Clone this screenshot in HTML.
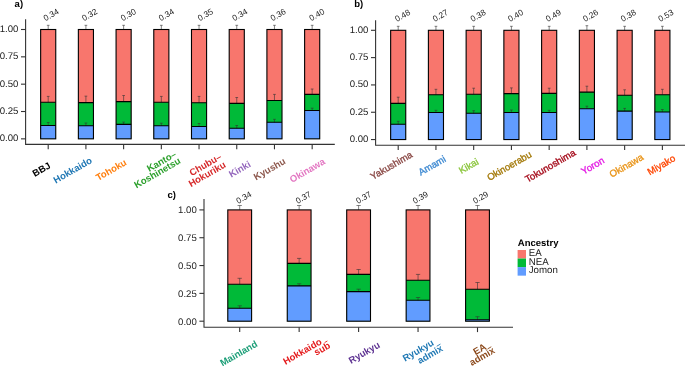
<!DOCTYPE html>
<html><head><meta charset="utf-8"><style>
html,body{margin:0;padding:0;background:#fff;overflow:hidden}
svg{display:block;will-change:transform}
text{font-family:"Liberation Sans",sans-serif;text-rendering:geometricPrecision}
.tk{font-size:9.6px;fill:#222}
.vl{font-size:8.3px;fill:#222}
.xb{font-size:9.5px;font-weight:bold}
.xr{font-size:9.6px;stroke-width:0.35px}
.tag{font-size:9.5px;font-weight:bold;fill:#000}
.lt{font-size:9.5px;font-weight:bold;fill:#000}
.li{font-size:9.7px;fill:#1a1a1a}
</style></head><body>
<svg width="685" height="366" viewBox="0 0 685 366">
<rect width="685" height="366" fill="#fff"/>
<rect x="40.65" y="29.50" width="15.10" height="109.35" fill="#F8766D"/>
<rect x="40.65" y="102.30" width="15.10" height="36.55" fill="#00BA38"/>
<rect x="40.65" y="125.50" width="15.10" height="13.35" fill="#619CFF"/>
<rect x="78.36" y="29.50" width="15.10" height="109.35" fill="#F8766D"/>
<rect x="78.36" y="102.60" width="15.10" height="36.25" fill="#00BA38"/>
<rect x="78.36" y="125.80" width="15.10" height="13.05" fill="#619CFF"/>
<rect x="116.07" y="29.50" width="15.10" height="109.35" fill="#F8766D"/>
<rect x="116.07" y="101.60" width="15.10" height="37.25" fill="#00BA38"/>
<rect x="116.07" y="124.40" width="15.10" height="14.45" fill="#619CFF"/>
<rect x="153.78" y="29.50" width="15.10" height="109.35" fill="#F8766D"/>
<rect x="153.78" y="102.30" width="15.10" height="36.55" fill="#00BA38"/>
<rect x="153.78" y="125.80" width="15.10" height="13.05" fill="#619CFF"/>
<rect x="191.49" y="29.50" width="15.10" height="109.35" fill="#F8766D"/>
<rect x="191.49" y="102.70" width="15.10" height="36.15" fill="#00BA38"/>
<rect x="191.49" y="126.50" width="15.10" height="12.35" fill="#619CFF"/>
<rect x="229.20" y="29.50" width="15.10" height="109.35" fill="#F8766D"/>
<rect x="229.20" y="103.40" width="15.10" height="35.45" fill="#00BA38"/>
<rect x="229.20" y="128.30" width="15.10" height="10.55" fill="#619CFF"/>
<rect x="266.91" y="29.50" width="15.10" height="109.35" fill="#F8766D"/>
<rect x="266.91" y="100.50" width="15.10" height="38.35" fill="#00BA38"/>
<rect x="266.91" y="122.30" width="15.10" height="16.55" fill="#619CFF"/>
<rect x="304.62" y="29.50" width="15.10" height="109.35" fill="#F8766D"/>
<rect x="304.62" y="94.40" width="15.10" height="44.45" fill="#00BA38"/>
<rect x="304.62" y="110.50" width="15.10" height="28.35" fill="#619CFF"/>
<path d="M46.84 25.30H49.56M48.20 25.30V29.50" stroke="#333" stroke-width="0.6" fill="none"/>
<path d="M46.84 96.40H49.56M48.20 96.40V102.30" stroke="#333" stroke-width="0.6" fill="none"/>
<path d="M46.84 122.50H49.56M48.20 122.50V125.50" stroke="#333" stroke-width="0.6" fill="none"/>
<path d="M84.55 25.30H87.27M85.91 25.30V29.50" stroke="#333" stroke-width="0.6" fill="none"/>
<path d="M84.55 96.15H87.27M85.91 96.15V102.60" stroke="#333" stroke-width="0.6" fill="none"/>
<path d="M84.55 123.00H87.27M85.91 123.00V125.80" stroke="#333" stroke-width="0.6" fill="none"/>
<path d="M122.26 25.30H124.98M123.62 25.30V29.50" stroke="#333" stroke-width="0.6" fill="none"/>
<path d="M122.26 95.50H124.98M123.62 95.50V101.60" stroke="#333" stroke-width="0.6" fill="none"/>
<path d="M122.26 122.10H124.98M123.62 122.10V124.40" stroke="#333" stroke-width="0.6" fill="none"/>
<path d="M159.97 25.30H162.69M161.33 25.30V29.50" stroke="#333" stroke-width="0.6" fill="none"/>
<path d="M159.97 96.40H162.69M161.33 96.40V102.30" stroke="#333" stroke-width="0.6" fill="none"/>
<path d="M159.97 123.20H162.69M161.33 123.20V125.80" stroke="#333" stroke-width="0.6" fill="none"/>
<path d="M197.68 25.30H200.40M199.04 25.30V29.50" stroke="#333" stroke-width="0.6" fill="none"/>
<path d="M197.68 96.40H200.40M199.04 96.40V102.70" stroke="#333" stroke-width="0.6" fill="none"/>
<path d="M197.68 123.50H200.40M199.04 123.50V126.50" stroke="#333" stroke-width="0.6" fill="none"/>
<path d="M235.39 25.30H238.11M236.75 25.30V29.50" stroke="#333" stroke-width="0.6" fill="none"/>
<path d="M235.39 97.50H238.11M236.75 97.50V103.40" stroke="#333" stroke-width="0.6" fill="none"/>
<path d="M235.39 125.50H238.11M236.75 125.50V128.30" stroke="#333" stroke-width="0.6" fill="none"/>
<path d="M273.10 25.30H275.82M274.46 25.30V29.50" stroke="#333" stroke-width="0.6" fill="none"/>
<path d="M273.10 94.40H275.82M274.46 94.40V100.50" stroke="#333" stroke-width="0.6" fill="none"/>
<path d="M273.10 119.30H275.82M274.46 119.30V122.30" stroke="#333" stroke-width="0.6" fill="none"/>
<path d="M310.81 25.30H313.53M312.17 25.30V29.50" stroke="#333" stroke-width="0.6" fill="none"/>
<path d="M310.81 89.00H313.53M312.17 89.00V94.40" stroke="#333" stroke-width="0.6" fill="none"/>
<path d="M310.81 108.20H313.53M312.17 108.20V110.50" stroke="#333" stroke-width="0.6" fill="none"/>
<rect x="40.65" y="29.50" width="15.10" height="109.35" fill="none" stroke="#000" stroke-width="1.1"/>
<path d="M40.65 102.30H55.75M40.65 125.50H55.75" stroke="#000" stroke-width="1.1"/>
<rect x="78.36" y="29.50" width="15.10" height="109.35" fill="none" stroke="#000" stroke-width="1.1"/>
<path d="M78.36 102.60H93.46M78.36 125.80H93.46" stroke="#000" stroke-width="1.1"/>
<rect x="116.07" y="29.50" width="15.10" height="109.35" fill="none" stroke="#000" stroke-width="1.1"/>
<path d="M116.07 101.60H131.17M116.07 124.40H131.17" stroke="#000" stroke-width="1.1"/>
<rect x="153.78" y="29.50" width="15.10" height="109.35" fill="none" stroke="#000" stroke-width="1.1"/>
<path d="M153.78 102.30H168.88M153.78 125.80H168.88" stroke="#000" stroke-width="1.1"/>
<rect x="191.49" y="29.50" width="15.10" height="109.35" fill="none" stroke="#000" stroke-width="1.1"/>
<path d="M191.49 102.70H206.59M191.49 126.50H206.59" stroke="#000" stroke-width="1.1"/>
<rect x="229.20" y="29.50" width="15.10" height="109.35" fill="none" stroke="#000" stroke-width="1.1"/>
<path d="M229.20 103.40H244.30M229.20 128.30H244.30" stroke="#000" stroke-width="1.1"/>
<rect x="266.91" y="29.50" width="15.10" height="109.35" fill="none" stroke="#000" stroke-width="1.1"/>
<path d="M266.91 100.50H282.01M266.91 122.30H282.01" stroke="#000" stroke-width="1.1"/>
<rect x="304.62" y="29.50" width="15.10" height="109.35" fill="none" stroke="#000" stroke-width="1.1"/>
<path d="M304.62 94.40H319.72M304.62 110.50H319.72" stroke="#000" stroke-width="1.1"/>
<path d="M25.60 19.30V144.40H334.80" stroke="#333333" stroke-width="1.1" fill="none"/>
<path d="M21.00 138.85H25.60" stroke="#333333" stroke-width="1.1"/>
<text x="18.40" y="141.25" text-anchor="end" class="tk">0.00</text>
<path d="M21.00 111.51H25.60" stroke="#333333" stroke-width="1.1"/>
<text x="18.40" y="113.91" text-anchor="end" class="tk">0.25</text>
<path d="M21.00 84.17H25.60" stroke="#333333" stroke-width="1.1"/>
<text x="18.40" y="86.58" text-anchor="end" class="tk">0.50</text>
<path d="M21.00 56.84H25.60" stroke="#333333" stroke-width="1.1"/>
<text x="18.40" y="59.24" text-anchor="end" class="tk">0.75</text>
<path d="M21.00 29.50H25.60" stroke="#333333" stroke-width="1.1"/>
<text x="18.40" y="31.90" text-anchor="end" class="tk">1.00</text>
<path d="M48.20 144.40V149.30" stroke="#333333" stroke-width="1.1"/>
<path d="M85.91 144.40V149.30" stroke="#333333" stroke-width="1.1"/>
<path d="M123.62 144.40V149.30" stroke="#333333" stroke-width="1.1"/>
<path d="M161.33 144.40V149.30" stroke="#333333" stroke-width="1.1"/>
<path d="M199.04 144.40V149.30" stroke="#333333" stroke-width="1.1"/>
<path d="M236.75 144.40V149.30" stroke="#333333" stroke-width="1.1"/>
<path d="M274.46 144.40V149.30" stroke="#333333" stroke-width="1.1"/>
<path d="M312.17 144.40V149.30" stroke="#333333" stroke-width="1.1"/>
<rect x="390.65" y="30.30" width="15.10" height="109.26" fill="#F8766D"/>
<rect x="390.65" y="103.40" width="15.10" height="36.16" fill="#00BA38"/>
<rect x="390.65" y="124.30" width="15.10" height="15.26" fill="#619CFF"/>
<rect x="428.39" y="30.30" width="15.10" height="109.26" fill="#F8766D"/>
<rect x="428.39" y="94.75" width="15.10" height="44.81" fill="#00BA38"/>
<rect x="428.39" y="112.50" width="15.10" height="27.06" fill="#619CFF"/>
<rect x="466.13" y="30.30" width="15.10" height="109.26" fill="#F8766D"/>
<rect x="466.13" y="94.30" width="15.10" height="45.26" fill="#00BA38"/>
<rect x="466.13" y="113.30" width="15.10" height="26.26" fill="#619CFF"/>
<rect x="503.87" y="30.30" width="15.10" height="109.26" fill="#F8766D"/>
<rect x="503.87" y="93.60" width="15.10" height="45.96" fill="#00BA38"/>
<rect x="503.87" y="112.50" width="15.10" height="27.06" fill="#619CFF"/>
<rect x="541.61" y="30.30" width="15.10" height="109.26" fill="#F8766D"/>
<rect x="541.61" y="93.40" width="15.10" height="46.16" fill="#00BA38"/>
<rect x="541.61" y="112.50" width="15.10" height="27.06" fill="#619CFF"/>
<rect x="579.35" y="30.30" width="15.10" height="109.26" fill="#F8766D"/>
<rect x="579.35" y="92.10" width="15.10" height="47.46" fill="#00BA38"/>
<rect x="579.35" y="108.70" width="15.10" height="30.86" fill="#619CFF"/>
<rect x="617.09" y="30.30" width="15.10" height="109.26" fill="#F8766D"/>
<rect x="617.09" y="95.20" width="15.10" height="44.36" fill="#00BA38"/>
<rect x="617.09" y="111.10" width="15.10" height="28.46" fill="#619CFF"/>
<rect x="654.83" y="30.30" width="15.10" height="109.26" fill="#F8766D"/>
<rect x="654.83" y="94.75" width="15.10" height="44.81" fill="#00BA38"/>
<rect x="654.83" y="112.00" width="15.10" height="27.56" fill="#619CFF"/>
<path d="M396.84 26.30H399.56M398.20 26.30V30.30" stroke="#333" stroke-width="0.6" fill="none"/>
<path d="M396.84 97.20H399.56M398.20 97.20V103.40" stroke="#333" stroke-width="0.6" fill="none"/>
<path d="M396.84 121.30H399.56M398.20 121.30V124.30" stroke="#333" stroke-width="0.6" fill="none"/>
<path d="M434.58 26.30H437.30M435.94 26.30V30.30" stroke="#333" stroke-width="0.6" fill="none"/>
<path d="M434.58 89.30H437.30M435.94 89.30V94.75" stroke="#333" stroke-width="0.6" fill="none"/>
<path d="M434.58 110.30H437.30M435.94 110.30V112.50" stroke="#333" stroke-width="0.6" fill="none"/>
<path d="M472.32 26.30H475.04M473.68 26.30V30.30" stroke="#333" stroke-width="0.6" fill="none"/>
<path d="M472.32 88.20H475.04M473.68 88.20V94.30" stroke="#333" stroke-width="0.6" fill="none"/>
<path d="M472.32 110.70H475.04M473.68 110.70V113.30" stroke="#333" stroke-width="0.6" fill="none"/>
<path d="M510.06 26.30H512.78M511.42 26.30V30.30" stroke="#333" stroke-width="0.6" fill="none"/>
<path d="M510.06 87.90H512.78M511.42 87.90V93.60" stroke="#333" stroke-width="0.6" fill="none"/>
<path d="M510.06 110.00H512.78M511.42 110.00V112.50" stroke="#333" stroke-width="0.6" fill="none"/>
<path d="M547.80 26.30H550.52M549.16 26.30V30.30" stroke="#333" stroke-width="0.6" fill="none"/>
<path d="M547.80 88.20H550.52M549.16 88.20V93.40" stroke="#333" stroke-width="0.6" fill="none"/>
<path d="M547.80 110.30H550.52M549.16 110.30V112.50" stroke="#333" stroke-width="0.6" fill="none"/>
<path d="M585.54 25.70H588.26M586.90 25.70V30.30" stroke="#333" stroke-width="0.6" fill="none"/>
<path d="M585.54 86.20H588.26M586.90 86.20V92.10" stroke="#333" stroke-width="0.6" fill="none"/>
<path d="M585.54 106.20H588.26M586.90 106.20V108.70" stroke="#333" stroke-width="0.6" fill="none"/>
<path d="M623.28 26.30H626.00M624.64 26.30V30.30" stroke="#333" stroke-width="0.6" fill="none"/>
<path d="M623.28 89.80H626.00M624.64 89.80V95.20" stroke="#333" stroke-width="0.6" fill="none"/>
<path d="M623.28 108.40H626.00M624.64 108.40V111.10" stroke="#333" stroke-width="0.6" fill="none"/>
<path d="M661.02 26.30H663.74M662.38 26.30V30.30" stroke="#333" stroke-width="0.6" fill="none"/>
<path d="M661.02 89.30H663.74M662.38 89.30V94.75" stroke="#333" stroke-width="0.6" fill="none"/>
<path d="M661.02 109.50H663.74M662.38 109.50V112.00" stroke="#333" stroke-width="0.6" fill="none"/>
<rect x="390.65" y="30.30" width="15.10" height="109.26" fill="none" stroke="#000" stroke-width="1.1"/>
<path d="M390.65 103.40H405.75M390.65 124.30H405.75" stroke="#000" stroke-width="1.1"/>
<rect x="428.39" y="30.30" width="15.10" height="109.26" fill="none" stroke="#000" stroke-width="1.1"/>
<path d="M428.39 94.75H443.49M428.39 112.50H443.49" stroke="#000" stroke-width="1.1"/>
<rect x="466.13" y="30.30" width="15.10" height="109.26" fill="none" stroke="#000" stroke-width="1.1"/>
<path d="M466.13 94.30H481.23M466.13 113.30H481.23" stroke="#000" stroke-width="1.1"/>
<rect x="503.87" y="30.30" width="15.10" height="109.26" fill="none" stroke="#000" stroke-width="1.1"/>
<path d="M503.87 93.60H518.97M503.87 112.50H518.97" stroke="#000" stroke-width="1.1"/>
<rect x="541.61" y="30.30" width="15.10" height="109.26" fill="none" stroke="#000" stroke-width="1.1"/>
<path d="M541.61 93.40H556.71M541.61 112.50H556.71" stroke="#000" stroke-width="1.1"/>
<rect x="579.35" y="30.30" width="15.10" height="109.26" fill="none" stroke="#000" stroke-width="1.1"/>
<path d="M579.35 92.10H594.45M579.35 108.70H594.45" stroke="#000" stroke-width="1.1"/>
<rect x="617.09" y="30.30" width="15.10" height="109.26" fill="none" stroke="#000" stroke-width="1.1"/>
<path d="M617.09 95.20H632.19M617.09 111.10H632.19" stroke="#000" stroke-width="1.1"/>
<rect x="654.83" y="30.30" width="15.10" height="109.26" fill="none" stroke="#000" stroke-width="1.1"/>
<path d="M654.83 94.75H669.93M654.83 112.00H669.93" stroke="#000" stroke-width="1.1"/>
<path d="M375.60 20.20V145.20H686.00" stroke="#333333" stroke-width="1.1" fill="none"/>
<path d="M371.00 139.56H375.60" stroke="#333333" stroke-width="1.1"/>
<text x="368.40" y="141.96" text-anchor="end" class="tk">0.00</text>
<path d="M371.00 112.25H375.60" stroke="#333333" stroke-width="1.1"/>
<text x="368.40" y="114.65" text-anchor="end" class="tk">0.25</text>
<path d="M371.00 84.93H375.60" stroke="#333333" stroke-width="1.1"/>
<text x="368.40" y="87.33" text-anchor="end" class="tk">0.50</text>
<path d="M371.00 57.61H375.60" stroke="#333333" stroke-width="1.1"/>
<text x="368.40" y="60.01" text-anchor="end" class="tk">0.75</text>
<path d="M371.00 30.30H375.60" stroke="#333333" stroke-width="1.1"/>
<text x="368.40" y="32.70" text-anchor="end" class="tk">1.00</text>
<path d="M398.20 145.20V150.10" stroke="#333333" stroke-width="1.1"/>
<path d="M435.94 145.20V150.10" stroke="#333333" stroke-width="1.1"/>
<path d="M473.68 145.20V150.10" stroke="#333333" stroke-width="1.1"/>
<path d="M511.42 145.20V150.10" stroke="#333333" stroke-width="1.1"/>
<path d="M549.16 145.20V150.10" stroke="#333333" stroke-width="1.1"/>
<path d="M586.90 145.20V150.10" stroke="#333333" stroke-width="1.1"/>
<path d="M624.64 145.20V150.10" stroke="#333333" stroke-width="1.1"/>
<path d="M662.38 145.20V150.10" stroke="#333333" stroke-width="1.1"/>
<rect x="227.80" y="209.90" width="23.80" height="111.30" fill="#F8766D"/>
<rect x="227.80" y="284.30" width="23.80" height="36.90" fill="#00BA38"/>
<rect x="227.80" y="308.30" width="23.80" height="12.90" fill="#619CFF"/>
<rect x="287.25" y="209.90" width="23.80" height="111.30" fill="#F8766D"/>
<rect x="287.25" y="263.40" width="23.80" height="57.80" fill="#00BA38"/>
<rect x="287.25" y="285.90" width="23.80" height="35.30" fill="#619CFF"/>
<rect x="346.70" y="209.90" width="23.80" height="111.30" fill="#F8766D"/>
<rect x="346.70" y="274.40" width="23.80" height="46.80" fill="#00BA38"/>
<rect x="346.70" y="291.60" width="23.80" height="29.60" fill="#619CFF"/>
<rect x="406.15" y="209.90" width="23.80" height="111.30" fill="#F8766D"/>
<rect x="406.15" y="280.20" width="23.80" height="41.00" fill="#00BA38"/>
<rect x="406.15" y="300.30" width="23.80" height="20.90" fill="#619CFF"/>
<rect x="465.60" y="209.90" width="23.80" height="111.30" fill="#F8766D"/>
<rect x="465.60" y="289.20" width="23.80" height="32.00" fill="#00BA38"/>
<rect x="465.60" y="319.70" width="23.80" height="1.50" fill="#619CFF"/>
<path d="M237.56 205.50H241.84M239.70 205.50V209.90" stroke="#333" stroke-width="0.6" fill="none"/>
<path d="M237.56 278.30H241.84M239.70 278.30V284.30" stroke="#333" stroke-width="0.6" fill="none"/>
<path d="M237.56 305.80H241.84M239.70 305.80V308.30" stroke="#333" stroke-width="0.6" fill="none"/>
<path d="M297.01 205.50H301.29M299.15 205.50V209.90" stroke="#333" stroke-width="0.6" fill="none"/>
<path d="M297.01 258.40H301.29M299.15 258.40V263.40" stroke="#333" stroke-width="0.6" fill="none"/>
<path d="M297.01 283.80H301.29M299.15 283.80V285.90" stroke="#333" stroke-width="0.6" fill="none"/>
<path d="M356.46 205.50H360.74M358.60 205.50V209.90" stroke="#333" stroke-width="0.6" fill="none"/>
<path d="M356.46 269.50H360.74M358.60 269.50V274.40" stroke="#333" stroke-width="0.6" fill="none"/>
<path d="M356.46 289.20H360.74M358.60 289.20V291.60" stroke="#333" stroke-width="0.6" fill="none"/>
<path d="M415.91 205.50H420.19M418.05 205.50V209.90" stroke="#333" stroke-width="0.6" fill="none"/>
<path d="M415.91 274.40H420.19M418.05 274.40V280.20" stroke="#333" stroke-width="0.6" fill="none"/>
<path d="M415.91 297.50H420.19M418.05 297.50V300.30" stroke="#333" stroke-width="0.6" fill="none"/>
<path d="M475.36 205.50H479.64M477.50 205.50V209.90" stroke="#333" stroke-width="0.6" fill="none"/>
<path d="M475.36 282.50H479.64M477.50 282.50V289.20" stroke="#333" stroke-width="0.6" fill="none"/>
<path d="M475.36 316.70H479.64M477.50 316.70V319.70" stroke="#333" stroke-width="0.6" fill="none"/>
<rect x="227.80" y="209.90" width="23.80" height="111.30" fill="none" stroke="#000" stroke-width="1.1"/>
<path d="M227.80 284.30H251.60M227.80 308.30H251.60" stroke="#000" stroke-width="1.1"/>
<rect x="287.25" y="209.90" width="23.80" height="111.30" fill="none" stroke="#000" stroke-width="1.1"/>
<path d="M287.25 263.40H311.05M287.25 285.90H311.05" stroke="#000" stroke-width="1.1"/>
<rect x="346.70" y="209.90" width="23.80" height="111.30" fill="none" stroke="#000" stroke-width="1.1"/>
<path d="M346.70 274.40H370.50M346.70 291.60H370.50" stroke="#000" stroke-width="1.1"/>
<rect x="406.15" y="209.90" width="23.80" height="111.30" fill="none" stroke="#000" stroke-width="1.1"/>
<path d="M406.15 280.20H429.95M406.15 300.30H429.95" stroke="#000" stroke-width="1.1"/>
<rect x="465.60" y="209.90" width="23.80" height="111.30" fill="none" stroke="#000" stroke-width="1.1"/>
<path d="M465.60 289.20H489.40M465.60 319.70H489.40" stroke="#000" stroke-width="1.1"/>
<path d="M204.00 199.00V327.20H513.00" stroke="#333333" stroke-width="1.1" fill="none"/>
<path d="M199.40 321.20H204.00" stroke="#333333" stroke-width="1.1"/>
<text x="196.80" y="324.50" text-anchor="end" class="tk">0.00</text>
<path d="M199.40 293.38H204.00" stroke="#333333" stroke-width="1.1"/>
<text x="196.80" y="296.68" text-anchor="end" class="tk">0.25</text>
<path d="M199.40 265.55H204.00" stroke="#333333" stroke-width="1.1"/>
<text x="196.80" y="268.85" text-anchor="end" class="tk">0.50</text>
<path d="M199.40 237.72H204.00" stroke="#333333" stroke-width="1.1"/>
<text x="196.80" y="241.03" text-anchor="end" class="tk">0.75</text>
<path d="M199.40 209.90H204.00" stroke="#333333" stroke-width="1.1"/>
<text x="196.80" y="213.20" text-anchor="end" class="tk">1.00</text>
<path d="M239.70 327.20V332.10" stroke="#333333" stroke-width="1.1"/>
<path d="M299.15 327.20V332.10" stroke="#333333" stroke-width="1.1"/>
<path d="M358.60 327.20V332.10" stroke="#333333" stroke-width="1.1"/>
<path d="M418.05 327.20V332.10" stroke="#333333" stroke-width="1.1"/>
<path d="M477.50 327.20V332.10" stroke="#333333" stroke-width="1.1"/>
<text transform="translate(45.40 21.20) rotate(-30)" class="vl">0.34</text>
<text transform="translate(84.11 21.20) rotate(-30)" class="vl">0.32</text>
<text transform="translate(122.72 21.20) rotate(-30)" class="vl">0.30</text>
<text transform="translate(160.73 21.20) rotate(-30)" class="vl">0.34</text>
<text transform="translate(199.84 21.20) rotate(-30)" class="vl">0.35</text>
<text transform="translate(234.15 21.20) rotate(-30)" class="vl">0.34</text>
<text transform="translate(272.46 21.20) rotate(-30)" class="vl">0.36</text>
<text transform="translate(311.37 21.20) rotate(-30)" class="vl">0.40</text>
<text transform="translate(397.10 22.10) rotate(-30)" class="vl">0.48</text>
<text transform="translate(434.69 22.10) rotate(-30)" class="vl">0.27</text>
<text transform="translate(472.43 22.10) rotate(-30)" class="vl">0.38</text>
<text transform="translate(509.92 22.10) rotate(-30)" class="vl">0.40</text>
<text transform="translate(547.66 22.10) rotate(-30)" class="vl">0.49</text>
<text transform="translate(585.10 22.10) rotate(-30)" class="vl">0.26</text>
<text transform="translate(622.84 22.10) rotate(-30)" class="vl">0.38</text>
<text transform="translate(660.28 22.10) rotate(-30)" class="vl">0.53</text>
<text transform="translate(238.25 203.90) rotate(-30)" class="vl">0.34</text>
<text transform="translate(297.70 203.90) rotate(-30)" class="vl">0.37</text>
<text transform="translate(357.90 203.90) rotate(-30)" class="vl">0.37</text>
<text transform="translate(414.85 203.90) rotate(-30)" class="vl">0.39</text>
<text transform="translate(474.90 203.90) rotate(-30)" class="vl">0.29</text>
<text transform="translate(34.80 177.00) rotate(-30)" class="xb" fill="#000000">BBJ</text>
<text transform="translate(55.80 183.70) rotate(-30)" class="xb" fill="#1F77B4">Hokkaido</text>
<text transform="translate(98.20 181.10) rotate(-30)" class="xb" fill="#FF7F0E">Tohoku</text>
<text transform="translate(149.20 172.10) rotate(-30)" class="xb" fill="#2CA02C">Kanto–</text>
<text transform="translate(136.60 188.50) rotate(-30)" class="xb" fill="#2CA02C">Koshinetsu</text>
<text transform="translate(191.70 176.20) rotate(-30)" class="xb" fill="#D62728">Chubu–</text>
<text transform="translate(190.90 187.20) rotate(-30)" class="xb" fill="#D62728">Hokuriku</text>
<text transform="translate(231.30 177.70) rotate(-30)" class="xb" fill="#9467BD">Kinki</text>
<text transform="translate(256.10 180.50) rotate(-30)" class="xb" fill="#8C564B">Kyushu</text>
<text transform="translate(292.00 183.00) rotate(-30)" class="xb" fill="#E377C2">Okinawa</text>
<text transform="translate(372.70 180.00) rotate(-30)" class="xr" fill="#8B4A47" stroke="#8B4A47">Yakushima</text>
<text transform="translate(420.70 175.80) rotate(-30)" class="xr" fill="#408BD2" stroke="#408BD2">Amami</text>
<text transform="translate(461.25 174.00) rotate(-30)" class="xr" fill="#8DC63F" stroke="#8DC63F">Kikai</text>
<text transform="translate(489.40 181.10) rotate(-30)" class="xr" fill="#A47A0A" stroke="#A47A0A">Okinoerabu</text>
<text transform="translate(527.40 182.80) rotate(-30)" class="xr" fill="#A50A1A" stroke="#A50A1A">Tokunoshima</text>
<text transform="translate(583.60 174.70) rotate(-30)" class="xr" fill="#E31AE3" stroke="#E31AE3">Yoron</text>
<text transform="translate(611.80 177.80) rotate(-30)" class="xr" fill="#E99418" stroke="#E99418">Okinawa</text>
<text transform="translate(649.80 175.40) rotate(-30)" class="xr" fill="#FF4500" stroke="#FF4500">Miyako</text>
<text transform="translate(222.50 366.50) rotate(-30)" class="xb" fill="#1B9E77">Mainland</text>
<text transform="translate(285.40 364.90) rotate(-30)" class="xb" fill="#E41A1C">Hokkaido</text>
<text transform="translate(351.00 363.90) rotate(-30)" class="xb" fill="#5E3392">Ryukyu</text>
<text transform="translate(404.90 361.80) rotate(-30)" class="xb" fill="#1F78B4">Ryukyu</text>
<text transform="translate(475.40 355.20) rotate(-30)" class="xb" fill="#8C4A1C">EA</text>
<g transform="translate(316.30 355.80) rotate(-30)"><text class="xb" fill="#E41A1C">sub</text><path d="M13.8 -7.3H17.0" stroke="#E41A1C" stroke-width="0.8"/></g>
<g transform="translate(419.80 364.10) rotate(-30)"><text class="xb" fill="#1F78B4">admix</text><path d="M23.6 -7.0H27.9" stroke="#1F78B4" stroke-width="0.8"/></g>
<g transform="translate(471.80 366.00) rotate(-30)"><text class="xb" fill="#8C4A1C">admix</text><path d="M22.3 -6.9H26.5" stroke="#8C4A1C" stroke-width="0.8"/></g>
<text x="14.6" y="7.4" class="tag">a)</text>
<text x="354.3" y="7.2" class="tag">b)</text>
<text x="167.4" y="197.6" class="tag">c)</text>
<text x="517.8" y="245.7" class="lt">Ancestry</text>
<rect x="517.6" y="250.00" width="8.4" height="8.55" fill="#F8766D"/>
<text x="528.7" y="256.00" class="li">EA</text>
<rect x="517.6" y="258.55" width="8.4" height="8.55" fill="#00BA38"/>
<text x="528.7" y="264.55" class="li">NEA</text>
<rect x="517.6" y="267.10" width="8.4" height="8.55" fill="#619CFF"/>
<text x="528.7" y="273.10" class="li">Jomon</text>
</svg></body></html>
